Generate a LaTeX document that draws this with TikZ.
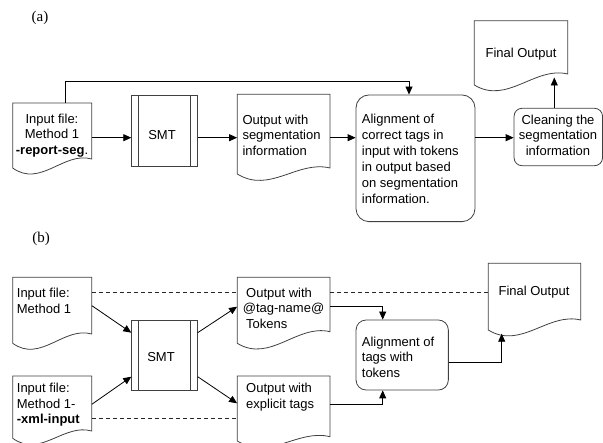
\documentclass[tikz,border=0pt]{standalone}
\usepackage{fontspec}
\setmainfont{Liberation Sans}
\newfontfamily\labfont{Liberation Serif}
\usetikzlibrary{arrows.meta,calc}

\newcommand{\docnode}[6]{% name, x0, y0, x1, yL, yR
  \draw[docline] (#2,#3) -- (#4,#3) -- (#4,#6) .. controls ({#2+0.65*(#4-#2)},{#6-8}) and ({#2+0.35*(#4-#2)},{#5+20}) .. (#2,#5) -- cycle;
  \node[inner sep=0pt, minimum width={(#4-#2)*1pt}, minimum height={(#5-#3)*1pt}] (#1) at ({(#2+#4)/2},{(#3+#5)/2}) {};
}

\begin{document}
\begin{tikzpicture}[x=1pt,y=-1pt,
  docline/.style={draw=black!75,line width=0.8pt},
  boxline/.style={draw=black!75,line width=0.8pt},
  arr/.style={draw=black,line width=0.8pt,-{Triangle[length=8pt,width=7pt]}},
  dsh/.style={draw=black!85,line width=0.9pt,dash pattern=on 4pt off 3pt},
  txt/.style={font=\fontsize{13}{15.5}\selectfont,inner sep=0pt},
  lab/.style={font=\labfont\fontsize{15}{18}\selectfont,inner sep=0pt},
  smtbox/.style={boxline,draw,minimum width=65.6pt,inner sep=0pt},
  rbox/.style={boxline,draw,inner sep=0pt},
]
\useasboundingbox (0,0) rectangle (603,443);

% ---------------- (a) ----------------
\node[lab] (la) at (40,18) {(a)};

\docnode{inA}{12.7}{103}{91.7}{168}{159}
\node[txt,align=center] (inAt) at (52,135.5) {Input file:\\Method 1\\\textbf{-report-seg}.};

\node[smtbox,minimum height=71pt] (smt1) at (164.5,130.5) {};
\draw[boxline] ([xshift=7pt]smt1.north west) -- ([xshift=7pt]smt1.south west);
\draw[boxline] ([xshift=-7.5pt]smt1.north east) -- ([xshift=-7.5pt]smt1.south east);
\node[txt] (smt1t) at (162,135) {SMT};

\docnode{outA}{237.3}{94.3}{330}{174}{168}
\node[txt,align=left,anchor=west] (outAt) at (242.3,135) {Output with\\segmentation\\information};

\node[rbox,rounded corners=13pt,minimum width=119pt,minimum height=126.7pt] (alnA) at (415.5,158.3) {};
\node[txt,align=left,anchor=west,font=\fontsize{13}{16.1}\selectfont] (alnAt) at (361.7,158.7) {Alignment of\\correct tags in\\input with tokens\\in output based\\on segmentation\\information.};

\node[rbox,rounded corners=8pt,minimum width=88.5pt,minimum height=57.4pt] (clnA) at (558.3,137) {};
\node[txt,align=center] (clnAt) at (558,135) {Cleaning the\\segmentation\\information};

\docnode{finA}{474.3}{20.7}{567.7}{85}{74}
\node[txt] (finAt) at (521,54) {Final Output};

\coordinate (pA) at ([yshift=-2.2pt]inA.east);
\draw[arr] (pA) -- (pA -| smt1.west);
\coordinate (pB) at (smt1.east |- pA);
\draw[arr] (pB) -- (pB -| outA.west);
\coordinate (pC) at (outA.east |- pA);
\draw[arr] (pC) -- (pC -| alnA.west);
\coordinate (pD) at (alnA.east |- pA);
\draw[arr] (pD) -- (pD -| clnA.west);

\coordinate (pE) at ([xshift=13.5pt]inA.north);
\draw[arr] (pE) -- ++(0,-21.7) -| ([xshift=-6.5pt]alnA.north);

\coordinate (pF) at ([xshift=-4pt]clnA.north);
\coordinate (finAin) at ([xshift=33.3pt,yshift=7.7pt]finA.south);
\draw[arr] (pF) -- (pF |- finAin);

% ---------------- (b) ----------------
\node[lab] (lb) at (41,239) {(b)};

\docnode{inB1}{12.7}{277.3}{91.7}{343.3}{334}
\node[txt,align=left,anchor=west] (inB1t) at (16.7,300.8) {Input file:\\Method 1};

\docnode{inB2}{12.7}{376}{91.7}{438.3}{431}
\node[txt,align=left,anchor=west] (inB2t) at (16.7,405) {Input file:\\Method 1-\\\textbf{-xml-input}};

\node[smtbox,minimum height=70pt] (smt2) at (164.5,355) {};
\draw[boxline] ([xshift=7pt]smt2.north west) -- ([xshift=7pt]smt2.south west);
\draw[boxline] ([xshift=-7.5pt]smt2.north east) -- ([xshift=-7.5pt]smt2.south east);
\node[txt] (smt2t) at (161,357.3) {SMT};

\docnode{outB1}{237.3}{277.3}{330}{343.3}{331.7}
\node[txt,align=left,anchor=west] (outB1t) at (246,308.2) {Output with\\\hspace*{-3.3pt}@tag-name@\\Tokens};

\docnode{outB2}{237.3}{376}{330}{441}{436.7}
\node[txt,align=left,anchor=west] (outB2t) at (246,397) {Output with\\explicit tags};

\node[rbox,rounded corners=10pt,minimum width=92.3pt,minimum height=70pt] (alnB) at (402.2,355) {};
\node[txt,align=left,anchor=west] (alnBt) at (361.7,357.3) {Alignment of\\tags with\\tokens};

\docnode{finB}{488.3}{263.3}{580.7}{330}{320}
\node[txt] (finBt) at (534,292) {Final Output};

% arrows to/from SMT
\draw[arr] ([yshift=4.6pt]inB1.east) -- ([yshift=22.3pt]smt2.west);
\draw[arr] ([yshift=2.9pt]inB2.east) -- ([yshift=-21.7pt]smt2.west);
\draw[arr] ([yshift=22.3pt]smt2.east) -- ([yshift=3.6pt]outB1.west);
\draw[arr] ([yshift=-21.7pt]smt2.east) -- ([yshift=5.2pt]outB2.west);

% dashed links
\coordinate (qA) at ([yshift=18pt]inB1.east);
\draw[dsh] (qA) -- (qA -| outB1.west);
\coordinate (qB) at ([yshift=-11.2pt]inB2.east);
\draw[dsh] (qB) -- (qB -| outB2.west);
\coordinate (qC) at ([yshift=18pt]outB1.east);
\draw[dsh] (qC) -- (qC -| finB.west);

% to alignment and final output
\coordinate (rA) at ([yshift=3.6pt]outB1.east);
\draw[arr] (rA) -| ([xshift=-19.5pt]alnB.north);
\coordinate (rB) at ([yshift=4.5pt]outB2.east);
\draw[arr] (rB) -| ([xshift=-19.5pt]alnB.south);
\coordinate (rC) at ([yshift=-7.3pt]alnB.east);
\coordinate (finBin) at ([xshift=-32.8pt,yshift=-3.5pt]finB.south);
\draw[arr] (rC) -| (finBin);
\end{tikzpicture}
\end{document}
